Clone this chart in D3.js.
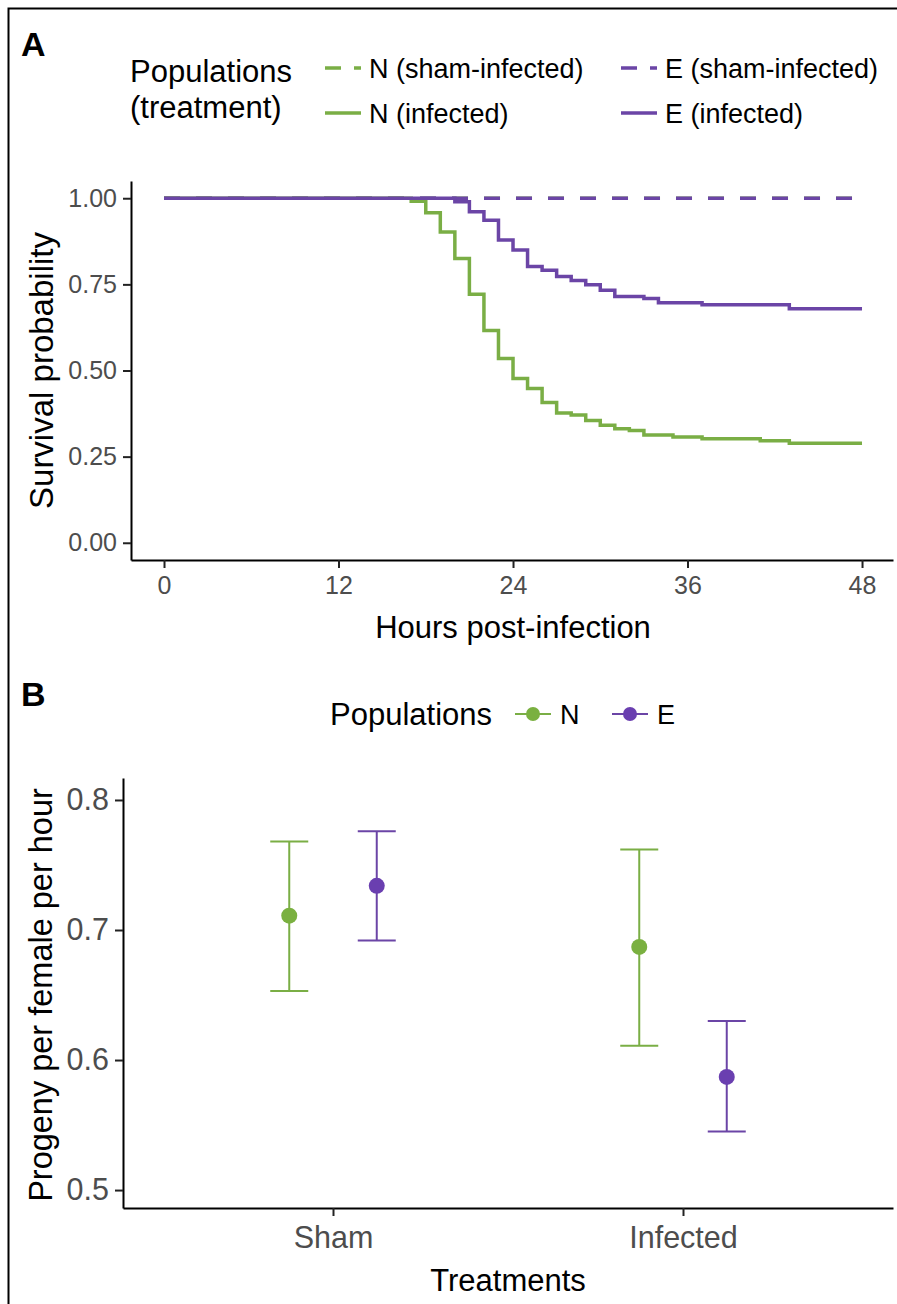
<!DOCTYPE html>
<html>
<head>
<meta charset="utf-8">
<script src="https://cdn.jsdelivr.net/npm/d3@7"></script>
<style>
  body { margin: 0; background: #fff; }
  text { font-family: "Liberation Sans", Arial, sans-serif; }
</style>
</head>
<body>
<svg id="fig" width="897" height="1304"></svg>
<script>
// ---------- Panel A: Kaplan–Meier survival (hours post-infection) ----------
const hourTicks = [0, 12, 24, 36, 48];
const survTicks = [0, 0.25, 0.5, 0.75, 1];

const nShamTime = [0, 48];
const nShamSurv = [1, 1];
const eShamTime = [0, 48];
const eShamSurv = [1, 1];

const nInfTime = [0, 17, 18, 19, 20, 21, 22, 23, 24, 25, 26, 27, 28, 29, 30, 31, 32, 33, 35, 37, 41, 43, 48];
const nInfSurv = [1, 0.991, 0.958, 0.902, 0.825, 0.721, 0.616, 0.535, 0.477, 0.448, 0.407, 0.377, 0.371, 0.355, 0.341, 0.331, 0.326, 0.313, 0.307, 0.302, 0.296, 0.289, 0.289];

const eInfTime = [0, 20, 21, 22, 23, 24, 25, 26, 27, 28, 29, 30, 31, 33, 34, 37, 43, 48];
const eInfSurv = [1, 0.99, 0.961, 0.936, 0.879, 0.85, 0.802, 0.791, 0.773, 0.761, 0.749, 0.733, 0.715, 0.709, 0.697, 0.691, 0.679, 0.679];

const survLegendLabels = ["N (sham-infected)", "E (sham-infected)", "N (infected)", "E (infected)"];

// ---------- Panel B: progeny per female per hour ----------
const treatments = ["Sham", "Infected"];
const populations = ["N", "E"];
const nMean  = [0.711, 0.687];
const nLower = [0.653, 0.611];
const nUpper = [0.768, 0.762];
const eMean  = [0.734, 0.587];
const eLower = [0.692, 0.545];
const eUpper = [0.776, 0.630];
const progenyTicks = [0.5, 0.6, 0.7, 0.8];

const GREEN = "#7AAE45";
const PURPLE = "#6B45A6";
const PT_GREEN = "#7AB040";
const PT_PURPLE = "#6A3FB0";
const TICK_TEXT = "#4D4D4D";

const svg = d3.select("#fig");

// outer frame
svg.append("path")
  .attr("d", "M8.5,1304 L8.5,8.5 L897,8.5")
  .attr("fill", "none").attr("stroke", "#000").attr("stroke-width", 2);

// ================= Panel A =================
const xA = d3.scaleLinear().domain([-2.27, 50.13]).range([131, 893]);
const yA = d3.scaleLinear().domain([-0.05, 1.05]).range([560, 181]);

svg.append("text").attr("x", 21).attr("y", 56)
  .attr("font-size", 34).attr("font-weight", "bold").text("A");

const gA = svg.append("g");

const stepLine = d3.line()
  .x(d => xA(d[0])).y(d => yA(d[1]))
  .curve(d3.curveStepAfter);

const survSeries = [
  { t: nShamTime, s: nShamSurv, color: GREEN, dash: "16,16" },
  { t: eShamTime, s: eShamSurv, color: PURPLE, dash: "16,16" },
  { t: nInfTime, s: nInfSurv, color: GREEN, dash: null },
  { t: eInfTime, s: eInfSurv, color: PURPLE, dash: null }
];

survSeries.forEach(sr => {
  const pts = sr.t.map((t, i) => [t, sr.s[i]]);
  gA.append("path")
    .attr("d", stepLine(pts))
    .attr("fill", "none")
    .attr("stroke", sr.color)
    .attr("stroke-width", 3.5)
    .attr("stroke-dasharray", sr.dash);
});

// axes A
const axA_x = gA.append("g").attr("transform", "translate(0,560)")
  .call(d3.axisBottom(xA).tickValues(hourTicks).tickSize(8).tickPadding(8).tickSizeOuter(0));
const axA_y = gA.append("g").attr("transform", "translate(131,0)")
  .call(d3.axisLeft(yA).tickValues(survTicks).tickFormat(d3.format(".2f")).tickSize(8).tickPadding(6).tickSizeOuter(0));
[axA_x, axA_y].forEach(ax => {
  ax.select(".domain").attr("stroke", "#000").attr("stroke-width", 2);
  ax.selectAll(".tick line").attr("stroke", "#222").attr("stroke-width", 2);
  ax.selectAll(".tick text").attr("fill", TICK_TEXT).attr("font-size", 25)
    .attr("font-family", "Liberation Sans, Arial, sans-serif");
});

svg.append("text")
  .attr("x", xA(24)).attr("y", 638)
  .attr("text-anchor", "middle").attr("font-size", 31)
  .text("Hours post-infection");

svg.append("text")
  .attr("transform", `translate(41,${(yA(0) + yA(1)) / 2}) rotate(-90)`)
  .attr("text-anchor", "middle").attr("dominant-baseline", "central")
  .attr("font-size", 33)
  .text("Survival probability");

// legend A
svg.append("text").attr("x", 130).attr("y", 82).attr("font-size", 31).text("Populations");
svg.append("text").attr("x", 130).attr("y", 118).attr("font-size", 31).text("(treatment)");

const legA = [
  { label: survLegendLabels[0], color: GREEN, dash: "16,13", x: 325, y: 68 },
  { label: survLegendLabels[1], color: PURPLE, dash: "16,13", x: 621, y: 68 },
  { label: survLegendLabels[2], color: GREEN, dash: null, x: 325, y: 113 },
  { label: survLegendLabels[3], color: PURPLE, dash: null, x: 621, y: 113 }
];
legA.forEach(k => {
  svg.append("line")
    .attr("x1", k.x).attr("x2", k.x + 36).attr("y1", k.y).attr("y2", k.y)
    .attr("stroke", k.color).attr("stroke-width", 3.5)
    .attr("stroke-dasharray", k.dash);
  svg.append("text").attr("x", k.x + 44).attr("y", k.y + 9.5)
    .attr("font-size", 27).text(k.label);
});

// ================= Panel B =================
const xB = d3.scalePoint().domain(treatments).range([123, 893]).padding(0.6);
const yB = d3.scaleLinear().domain([0.4862, 0.8169]).range([1208, 778]);
const dodge = xB.step() * 0.125;

svg.append("text").attr("x", 21).attr("y", 706)
  .attr("font-size", 34).attr("font-weight", "bold").text("B");

const gB = svg.append("g");

const progenySeries = [
  { pop: populations[0], mean: nMean, lo: nLower, hi: nUpper, color: GREEN, fill: PT_GREEN, off: -dodge },
  { pop: populations[1], mean: eMean, lo: eLower, hi: eUpper, color: PURPLE, fill: PT_PURPLE, off: dodge }
];

progenySeries.forEach(sr => {
  const rows = treatments.map((t, i) => ({ t, m: sr.mean[i], lo: sr.lo[i], hi: sr.hi[i] }));
  const g = gB.append("g");
  g.selectAll("line.stem").data(rows).join("line")
    .attr("x1", d => xB(d.t) + sr.off).attr("x2", d => xB(d.t) + sr.off)
    .attr("y1", d => yB(d.lo)).attr("y2", d => yB(d.hi))
    .attr("stroke", sr.color).attr("stroke-width", 2);
  ["lo", "hi"].forEach(key => {
    g.selectAll("line.cap-" + key).data(rows).join("line")
      .attr("x1", d => xB(d.t) + sr.off - 19).attr("x2", d => xB(d.t) + sr.off + 19)
      .attr("y1", d => yB(d[key])).attr("y2", d => yB(d[key]))
      .attr("stroke", sr.color).attr("stroke-width", 2);
  });
  g.selectAll("circle").data(rows).join("circle")
    .attr("cx", d => xB(d.t) + sr.off).attr("cy", d => yB(d.m))
    .attr("r", 8).attr("fill", sr.fill);
});

const axB_x = gB.append("g").attr("transform", "translate(0,1208)")
  .call(d3.axisBottom(xB).tickSize(8).tickPadding(10).tickSizeOuter(0));
const axB_y = gB.append("g").attr("transform", "translate(123,0)")
  .call(d3.axisLeft(yB).tickValues(progenyTicks).tickFormat(d3.format(".1f")).tickSize(8).tickPadding(6).tickSizeOuter(0));
[axB_x, axB_y].forEach(ax => {
  ax.select(".domain").attr("stroke", "#000").attr("stroke-width", 2);
  ax.selectAll(".tick line").attr("stroke", "#222").attr("stroke-width", 2);
  ax.selectAll(".tick text").attr("fill", TICK_TEXT).attr("font-size", 30.5)
    .attr("font-family", "Liberation Sans, Arial, sans-serif");
});

svg.append("text")
  .attr("x", (xB(treatments[0]) + xB(treatments[1])) / 2).attr("y", 1291)
  .attr("text-anchor", "middle").attr("font-size", 31)
  .text("Treatments");

svg.append("text")
  .attr("transform", `translate(41,${(yB(0.5) + yB(0.8)) / 2}) rotate(-90)`)
  .attr("text-anchor", "middle").attr("dominant-baseline", "central")
  .attr("font-size", 32.5)
  .text("Progeny per female per hour");

// legend B
svg.append("text").attr("x", 330).attr("y", 725).attr("font-size", 31).text("Populations");
const legB = [
  { label: populations[0], color: GREEN, fill: PT_GREEN, x: 515 },
  { label: populations[1], color: PURPLE, fill: PT_PURPLE, x: 612 }
];
legB.forEach(k => {
  svg.append("line")
    .attr("x1", k.x).attr("x2", k.x + 36).attr("y1", 714).attr("y2", 714)
    .attr("stroke", k.color).attr("stroke-width", 2);
  svg.append("circle").attr("cx", k.x + 18).attr("cy", 714).attr("r", 7).attr("fill", k.fill);
  svg.append("text").attr("x", k.x + 45).attr("y", 724).attr("font-size", 27).text(k.label);
});
</script>
</body>
</html>
